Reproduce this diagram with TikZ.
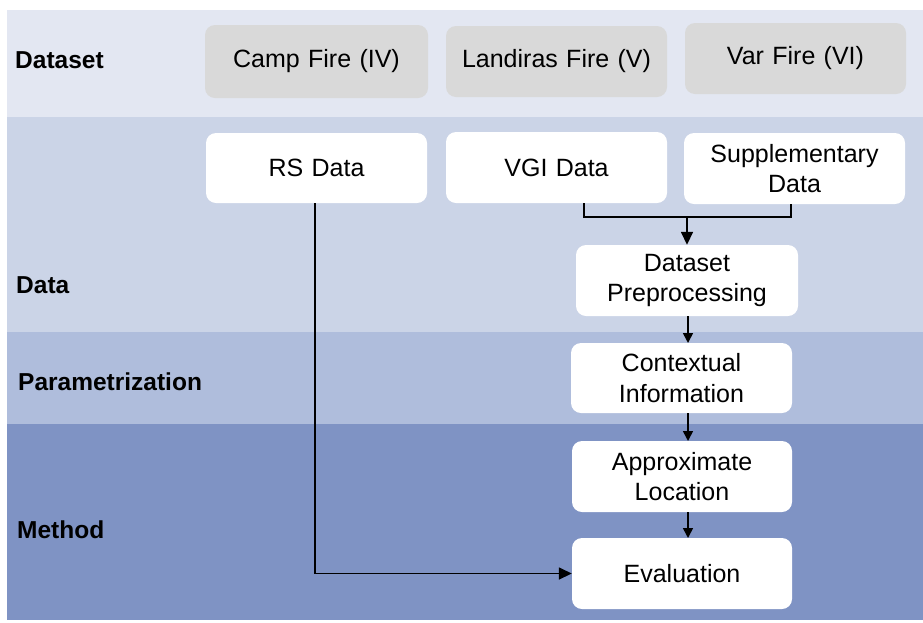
\documentclass[tikz,border=0pt]{standalone}
\usepackage{fontspec}
\setmainfont{Liberation Sans}
\usetikzlibrary{arrows.meta,calc}
\definecolor{bandA}{HTML}{E3E7F2}
\definecolor{bandB}{HTML}{CBD4E7}
\definecolor{bandC}{HTML}{AFBDDC}
\definecolor{bandD}{HTML}{7F93C4}
\definecolor{grayfill}{HTML}{D9D9D9}
\tikzset{
  box/.style={rounded corners=10pt, draw=none, align=center, inner sep=0pt,
    font=\fontsize{25}{30.5}\selectfont, text width=215pt},
  dsbox/.style={box, fill=grayfill},
  wbox/.style={box, fill=white},
  lbl/.style={anchor=west, font=\fontsize{24.5}{30}\selectfont\bfseries, inner sep=0pt},
  conn/.style={line width=1.6pt},
  arr/.style={conn, -{Triangle[length=10pt,width=10pt]}},
  bigarr/.style={conn, -{Triangle[length=13pt,width=12pt]}},
}
\begin{document}
\begin{tikzpicture}[x=1pt,y=-1pt]
\useasboundingbox (0,0) rectangle (923,622);
\fill[white] (0,0) rectangle (923,622);
\fill[bandA] (7,10) rectangle (923,117);
\fill[bandB] (7,117) rectangle (923,332);
\fill[bandC] (7,332) rectangle (923,424);
\fill[bandD] (7,424) rectangle (923,620);

\node[lbl] (lds) at (15,60) {Dataset};
\node[lbl] (ldata) at (16,285) {Data};
\node[lbl] (lpar) at (18,382) {Parametrization};
\node[lbl] (lmeth) at (17,530) {Method};

\node[dsbox, minimum width=223pt, minimum height=73pt] (camp) at (316.5,61.5) {Camp Fire (IV)};
\node[dsbox, minimum width=221pt, minimum height=71pt] (land) at (556.5,61.5) {Landiras Fire (V)};
\node[dsbox, minimum width=221pt, minimum height=71pt] (var) at (795.5,58.5) {Var Fire (VI)};

\node[wbox, minimum width=221pt, minimum height=70pt] (rs) at (316.5,168) {RS Data};
\node[wbox, minimum width=221pt, minimum height=71pt] (vgi) at (556.5,167.5) {VGI Data};
\node[wbox, minimum width=221pt, minimum height=71pt] (supp) at (794.5,168.5) {Supplementary\\Data};
\node[wbox, minimum width=222pt, minimum height=71pt] (prep) at (687,280.5) {Dataset\\Preprocessing};
\node[wbox, minimum width=221pt, minimum height=70pt] (ctx) at (681.5,378) {Contextual\\Information};
\node[wbox, minimum width=220pt, minimum height=71pt] (apx) at (682,476.5) {Approximate\\Location};
\node[wbox, minimum width=220pt, minimum height=71pt] (ev) at (682,573.5) {Evaluation};

\coordinate (vgiout) at ($(vgi.south)+(27.5,0)$);
\coordinate (suppout) at (791,204);
\coordinate (merge) at (687,217);
\draw[conn] (vgiout) -- (vgiout |- merge) -- (suppout |- merge) -- (suppout);
\draw[bigarr] (merge) -- (prep.north);
\coordinate (rsout) at (315,203);
\draw[arr] (688,316) -- (688,343);
\draw[arr] (688,413) -- (688,441);
\draw[arr] (688,512) -- (688,538);
\draw[bigarr] (rsout) -- (rsout |- ev.west) -- (ev.west);
\end{tikzpicture}
\end{document}
